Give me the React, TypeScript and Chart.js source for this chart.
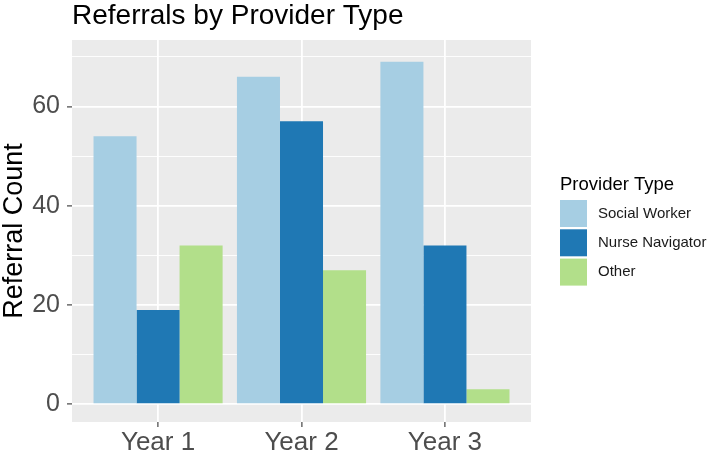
import React, { useEffect, useRef } from "react";
import { Chart, registerables } from "chart.js";

Chart.register(...registerables);

const chartTitle = "Referrals by Provider Type";
const yAxisTitle = "Referral Count";
const legendTitle = "Provider Type";
const categories = ["Year 1", "Year 2", "Year 3"];
const categoryPositions = [1, 2, 3];
const seriesNames = ["Social Worker", "Nurse Navigator", "Other"];
const socialWorker = [54, 66, 69];
const nurseNavigator = [19, 57, 32];
const other = [32, 27, 3];
const yTicks = [0, 10, 20, 30, 40, 50, 60, 70];
const seriesColors = ["#A6CEE3", "#1F78B4", "#B2DF8A"];

const FONT = '"Liberation Sans", Arial, Helvetica, sans-serif';

const panelBackground = {
  id: "panelBackground",
  beforeDraw(chart: any) {
    const { ctx, chartArea } = chart;
    ctx.save();
    ctx.fillStyle = "#EBEBEB";
    ctx.fillRect(chartArea.left, chartArea.top, chartArea.width, chartArea.height);
    ctx.restore();
  },
};

const ggLegend = {
  id: "ggLegend",
  afterDraw(chart: any) {
    const { ctx } = chart;
    const left = 560;
    const top = 200;
    const key = 27;
    const pitch = 29.3;
    ctx.save();
    ctx.textAlign = "left";
    ctx.textBaseline = "middle";
    ctx.fillStyle = "#000000";
    ctx.font = `18.5px ${FONT}`;
    ctx.fillText(legendTitle, left, 185);
    ctx.font = `15px ${FONT}`;
    chart.data.datasets.forEach((ds: any, i: number) => {
      const y = top + i * pitch;
      ctx.fillStyle = ds.backgroundColor;
      ctx.fillRect(left, y, key, key);
      ctx.fillStyle = "#1A1A1A";
      ctx.fillText(ds.label, 598, y + key / 2);
    });
    ctx.restore();
  },
};

export default function App() {
  const ref = useRef<HTMLCanvasElement | null>(null);

  useEffect(() => {
    if (!ref.current) return;
    const series = [socialWorker, nurseNavigator, other];
    const chart = new Chart(ref.current, {
      type: "bar",
      data: {
        datasets: series.map((vals, i) => ({
          label: seriesNames[i],
          data: categoryPositions.map((x, j) => ({ x, y: vals[j] })),
          backgroundColor: seriesColors[i],
          borderWidth: 0,
          barPercentage: 1,
          categoryPercentage: 0.9,
        })),
      },
      options: {
        responsive: false,
        animation: false,
        events: [],
        layout: { padding: { top: 0, right: 177, bottom: 0, left: 0 } },
        plugins: {
          legend: { display: false },
          tooltip: { enabled: false },
          title: {
            display: true,
            text: chartTitle,
            align: "start",
            fullSize: false,
            color: "#000000",
            font: { family: FONT, size: 28, weight: "normal", lineHeight: 1 },
            padding: { top: 2, bottom: 10 },
          },
        },
        scales: {
          x: {
            type: "linear",
            min: 0.4,
            max: 3.6,
            offset: false,
            afterBuildTicks: (scale: any) => {
              scale.ticks = categoryPositions.map((v) => ({ value: v }));
            },
            afterFit: (scale: any) => {
              scale.height = 31;
            },
            ticks: {
              callback: (_v: any, i: number) => categories[i] ?? "",
              color: "#4D4D4D",
              font: { family: FONT, size: 26 },
              padding: 0,
              maxRotation: 0,
              autoSkip: false,
            },
            grid: {
              offset: false,
              color: "#FFFFFF",
              lineWidth: 1.8,
              tickColor: "#333333",
              tickLength: 5,
              tickWidth: 1.1,
            },
            border: { display: false },
          },
          y: {
            type: "linear",
            min: -3.6,
            max: 73.4,
            afterBuildTicks: (scale: any) => {
              scale.ticks = yTicks.map((v) => ({ value: v }));
            },
            afterFit: (scale: any) => {
              scale.width = 72;
            },
            ticks: {
              callback: (v: any) => (Number(v) % 20 === 0 ? String(v) : ""),
              color: "#4D4D4D",
              font: { family: FONT, size: 25 },
              padding: 7,
            },
            grid: {
              color: "#FFFFFF",
              lineWidth: (c: any) => (c.tick && c.tick.value % 20 === 0 ? 1.8 : 0.9),
              tickColor: (c: any) =>
                c.tick && c.tick.value % 20 === 0 ? "#333333" : "rgba(0,0,0,0)",
              tickLength: 5,
              tickWidth: 1.1,
            },
            border: { display: false },
            title: {
              display: true,
              text: yAxisTitle,
              color: "#000000",
              font: { family: FONT, size: 27, lineHeight: 1.08 },
              padding: { top: 0, bottom: 0 },
            },
          },
        },
      } as any,
      plugins: [panelBackground, ggLegend],
    });
    return () => chart.destroy();
  }, []);

  return (
    <div style={{ position: "absolute", left: 0, top: 0, width: 708, height: 453 }}>
      <canvas ref={ref} width={708} height={453} style={{ width: 708, height: 453 }} />
    </div>
  );
}
